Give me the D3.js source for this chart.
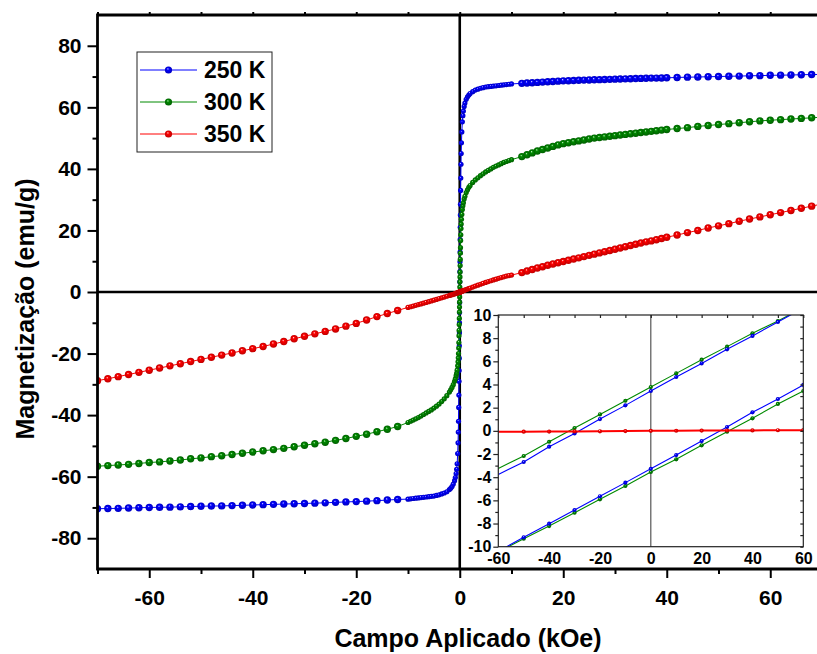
<!DOCTYPE html>
<html>
<head>
<meta charset="utf-8">
<script src="https://cdn.jsdelivr.net/npm/d3@7"></script>
<style>
  body { margin: 0; background: #fff; }
  svg { display: block; }
  text { font-family: Arial, "Liberation Sans", sans-serif; font-weight: bold; fill: #000; }
</style>
</head>
<body>
<svg id="chart" width="817" height="654"></svg>
<script>
// ---------------- Data: M(H) loops, H in kOe, M in emu/g ----------------
const series = ["250 K", "300 K", "350 K"];
const colors = ["#0000ff", "#008a00", "#ff0000"];

// high-field points, negative side (2 kOe steps)
const fieldNeg = [-70,-68,-66,-64,-62,-60,-58,-56,-54,-52,-50,-48,-46,-44,-42,-40,-38,-36,-34,-32,-30,-28,-26,-24,-22,-20,-18,-16,-14,-12];
const m250Neg = [-70.4,-70.35,-70.3,-70.2,-70.1,-70.0,-69.95,-69.9,-69.8,-69.7,-69.6,-69.55,-69.5,-69.4,-69.3,-69.2,-69.1,-69.0,-68.9,-68.8,-68.7,-68.6,-68.5,-68.35,-68.2,-68.1,-67.95,-67.8,-67.6,-67.4];
const m300Neg = [-56.6,-56.4,-56.2,-56.0,-55.7,-55.4,-55.2,-54.9,-54.6,-54.2,-53.9,-53.5,-53.2,-52.8,-52.4,-52.0,-51.6,-51.2,-50.8,-50.3,-49.8,-49.3,-48.8,-48.2,-47.6,-46.9,-46.2,-45.4,-44.6,-43.7];
const m350Neg = [-28.8,-28.2,-27.5,-26.8,-26.1,-25.4,-24.7,-24.0,-23.3,-22.6,-21.9,-21.2,-20.5,-19.8,-19.1,-18.4,-17.7,-16.9,-16.1,-15.2,-14.4,-13.6,-12.8,-12.0,-11.1,-10.2,-9.1,-8.0,-7.0,-6.0];

// high-field points, positive side (1 kOe steps up to 40, then 2 kOe)
const fieldPos = [12,13,14,15,16,17,18,19,20,21,22,23,24,25,26,27,28,29,30,31,32,33,34,35,36,37,38,39,40,42,44,46,48,50,52,54,56,58,60,62,64,66,68,70];
const m250Pos = [67.8,67.9,68.0,68.1,68.2,68.3,68.4,68.5,68.6,68.65,68.7,68.8,68.85,68.9,68.95,69.0,69.05,69.1,69.15,69.2,69.25,69.3,69.35,69.4,69.45,69.5,69.5,69.55,69.6,69.7,69.8,69.85,69.95,70.0,70.1,70.15,70.25,70.3,70.4,70.45,70.5,70.6,70.65,70.7];
const m300Pos = [44.0,44.6,45.2,45.8,46.3,46.8,47.3,47.8,48.2,48.5,48.8,49.1,49.4,49.7,50.0,50.2,50.4,50.6,50.8,51.0,51.2,51.4,51.6,51.8,52.0,52.2,52.4,52.6,52.8,53.1,53.4,53.8,54.1,54.4,54.7,55.0,55.3,55.6,55.8,56.0,56.2,56.4,56.6,56.8];
const m350Pos = [6.3,6.8,7.3,7.8,8.2,8.7,9.1,9.5,9.9,10.3,10.7,11.1,11.5,11.9,12.3,12.7,13.1,13.5,13.9,14.3,14.7,15.1,15.5,15.9,16.3,16.6,17.0,17.4,17.8,18.5,19.3,20.0,20.8,21.5,22.2,23.0,23.7,24.4,25.1,25.8,26.5,27.2,27.9,28.6];

// low-field points (dense sweep around zero)
const fieldInner = [-10,-9.5,-9,-8.5,-8,-7.5,-7,-6.5,-6,-5.5,-5,-4.5,-4,-3.5,-3,-2.5,-2,-1.75,-1.5,-1.25,-1,-0.85,-0.7,-0.6,-0.5,-0.4,-0.33,-0.28,-0.24,-0.2,-0.17,-0.14,-0.12,-0.1,-0.08,-0.06,-0.045,-0.03,-0.015,
  0,
  0.015,0.03,0.045,0.06,0.08,0.1,0.12,0.14,0.17,0.2,0.24,0.28,0.33,0.4,0.5,0.6,0.7,0.85,1,1.25,1.5,1.75,2,2.5,3,3.5,4,4.5,5,5.5,6,6.5,7,7.5,8,8.5,9,9.5,10];
const m250Inner = [-67.3,-67.2,-67.1,-67.0,-66.9,-66.8,-66.7,-66.6,-66.5,-66.4,-66.3,-66.1,-65.9,-65.6,-65.3,-64.9,-64.2,-63.8,-63.2,-62.4,-61.3,-60.3,-59.0,-57.6,-55.8,-52.5,-49.0,-45.5,-42.0,-37.5,-33.5,-29.0,-25.5,-21.5,-17.5,-13.2,-10.0,-6.7,-3.4,
  0,
  3.3,6.6,9.8,13.0,17.0,21.0,25.0,28.5,33.0,37.0,41.5,45.0,48.5,52.0,55.3,57.3,58.8,60.3,61.4,62.6,63.4,64.0,64.5,65.1,65.6,65.9,66.2,66.4,66.6,66.7,66.8,66.9,67.0,67.1,67.2,67.3,67.4,67.5,67.6];
const m300Inner = [-42.4,-42.0,-41.6,-41.2,-40.8,-40.3,-39.8,-39.3,-38.8,-38.3,-37.7,-37.1,-36.4,-35.6,-34.7,-33.7,-32.5,-31.8,-31.0,-30.1,-29.0,-28.2,-27.2,-26.4,-25.4,-24.0,-22.7,-21.4,-20.0,-18.2,-16.4,-14.2,-12.5,-10.6,-8.6,-6.5,-4.9,-3.3,-1.6,
  0,
  1.6,3.3,4.9,6.5,8.6,10.6,12.6,14.4,16.7,18.6,20.6,22.1,23.6,25.2,26.8,28.0,29.0,30.2,31.1,32.3,33.2,34.0,34.6,35.6,36.4,37.1,37.8,38.4,39.0,39.5,40.0,40.5,40.9,41.3,41.7,42.1,42.4,42.7,43.0];
const m350Inner = [-5.0,-4.8,-4.57,-4.34,-4.1,-3.87,-3.63,-3.39,-3.15,-2.9,-2.65,-2.4,-2.15,-1.9,-1.64,-1.38,-1.12,-1.0,-0.87,-0.73,-0.59,-0.5,-0.42,-0.36,-0.3,-0.24,-0.2,-0.17,-0.14,-0.12,-0.1,-0.08,-0.07,-0.06,-0.05,-0.04,-0.03,-0.02,-0.01,
  0,
  0.01,0.02,0.03,0.04,0.05,0.06,0.07,0.09,0.11,0.13,0.15,0.18,0.21,0.26,0.32,0.39,0.45,0.55,0.65,0.81,0.97,1.12,1.28,1.6,1.91,2.22,2.52,2.81,3.1,3.38,3.65,3.92,4.18,4.43,4.68,4.92,5.16,5.33,5.5];

// Inset: low-field loop branches, H in Oe
const insetField = [-60,-50,-40,-30,-20,-10,0,10,20,30,40,50,60];
const i250Up   = [-3.76,-2.69,-1.37,-0.22,1.02,2.2,3.44,4.65,5.82,7.04,8.19,9.4,10.6];
const i300Up   = [-3.24,-2.17,-0.94,0.24,1.42,2.6,3.78,4.96,6.14,7.27,8.42,9.48,10.65];
const i250Down = [-10.4,-9.19,-8.01,-6.83,-5.65,-4.47,-3.27,-2.09,-0.88,0.33,1.6,2.75,3.96];
const i300Down = [-10.45,-9.31,-8.22,-7.07,-5.91,-4.76,-3.55,-2.46,-1.25,-0.07,1.08,2.32,3.44];
const i350     = [-0.08,-0.07,-0.06,-0.05,-0.04,-0.02,0,0.01,0.02,0.03,0.04,0.05,0.06];

// Axis ticks
const xMajor = [-60,-40,-20,0,20,40,60];
const xMinor = [-70,-50,-30,-10,10,30,50,70];
const yMajor = [-80,-60,-40,-20,0,20,40,60,80];
const yMinor = [-70,-50,-30,-10,10,30,50,70];
const insetXMajor = [-60,-40,-20,0,20,40,60];
const insetXMinor = [-50,-30,-10,10,30,50];
const insetYMajor = [-10,-8,-6,-4,-2,0,2,4,6,8,10];
const insetYMinor = [-9,-7,-5,-3,-1,1,3,5,7,9];

// ---------------- Layout ----------------
const svg = d3.select("#chart");
const W = 817, H = 654;
const plot = { left: 97.5, right: 822, top: 15, bottom: 569 };
const x = d3.scaleLinear().domain([-70, 70]).range([plot.left, plot.right]);
const y = d3.scaleLinear().domain([-90, 90]).range([plot.bottom, plot.top]);

const defs = svg.append("defs");
const lightOf = { "#0000ff": "#d0d0ff", "#008a00": "#c0f0c0", "#ff0000": "#ffd8d8" };
const darkOf  = { "#0000ff": "#0000c0", "#008a00": "#006000", "#ff0000": "#c00000" };
colors.forEach((c, i) => {
  const g = defs.append("radialGradient").attr("id", "ball" + i)
    .attr("cx", "50%").attr("cy", "50%").attr("r", "50%").attr("fx", "40%").attr("fy", "32%");
  g.append("stop").attr("offset", "0%").attr("stop-color", lightOf[c]);
  g.append("stop").attr("offset", "30%").attr("stop-color", c);
  g.append("stop").attr("offset", "100%").attr("stop-color", darkOf[c]);
});
defs.append("clipPath").attr("id", "plotClip").append("rect")
  .attr("x", plot.left).attr("y", plot.top)
  .attr("width", W - plot.left).attr("height", plot.bottom - plot.top);

// zero lines
svg.append("line").attr("x1", plot.left).attr("x2", W).attr("y1", y(0)).attr("y2", y(0))
  .attr("stroke", "#000").attr("stroke-width", 2.6);
svg.append("line").attr("x1", x(0)).attr("x2", x(0)).attr("y1", plot.top).attr("y2", plot.bottom)
  .attr("stroke", "#000").attr("stroke-width", 2.6);

// ---------------- Main curves ----------------
const curves = [
  { neg: m250Neg, inner: m250Inner, pos: m250Pos },
  { neg: m300Neg, inner: m300Inner, pos: m300Pos },
  { neg: m350Neg, inner: m350Inner, pos: m350Pos }
];
const gData = svg.append("g").attr("clip-path", "url(#plotClip)");
const line = d3.line().x(d => x(d[0])).y(d => y(d[1]));

curves.forEach((c, i) => {
  const outerPts = fieldNeg.map((h, k) => [h, c.neg[k]]).concat(fieldPos.map((h, k) => [h, c.pos[k]]));
  const innerPts = fieldInner.map((h, k) => [h, c.inner[k]]);
  const all = fieldNeg.map((h, k) => [h, c.neg[k]])
    .concat(innerPts)
    .concat(fieldPos.map((h, k) => [h, c.pos[k]]));
  gData.append("path").datum(all).attr("d", line)
    .attr("fill", "none").attr("stroke", colors[i]).attr("stroke-width", 1);
  gData.append("g").selectAll("circle").data(innerPts).join("circle")
    .attr("cx", d => x(d[0])).attr("cy", d => y(d[1])).attr("r", 2.6)
    .attr("fill", "url(#ball" + i + ")");
  gData.append("g").selectAll("circle").data(outerPts).join("circle")
    .attr("cx", d => x(d[0])).attr("cy", d => y(d[1])).attr("r", 3.7)
    .attr("fill", "url(#ball" + i + ")");
});

// ---------------- Main axes ----------------
const axisStroke = 2.8;
function styleAxis(g) {
  g.select(".domain").remove();
  g.selectAll(".tick line").attr("stroke", "#000").attr("stroke-width", 2);
  g.selectAll(".tick text").style("font-size", "21px");
}
const fmt = d => String(d);
svg.append("g").attr("transform", `translate(${plot.left},0)`)
  .call(d3.axisLeft(y).tickValues(yMajor).tickSize(10).tickPadding(6).tickFormat(fmt))
  .call(styleAxis);
svg.append("g").attr("transform", `translate(${plot.left},0)`)
  .call(d3.axisLeft(y).tickValues(yMinor).tickSize(5).tickFormat(""))
  .call(styleAxis);
svg.append("g").attr("transform", `translate(0,${plot.bottom})`)
  .call(d3.axisBottom(x).tickValues(xMajor).tickSize(9).tickPadding(12).tickFormat(fmt))
  .call(styleAxis);
svg.append("g").attr("transform", `translate(0,${plot.bottom})`)
  .call(d3.axisBottom(x).tickValues(xMinor).tickSize(5).tickFormat(""))
  .call(styleAxis);
// top mirror ticks
svg.append("g").attr("transform", `translate(0,${plot.top})`)
  .call(d3.axisTop(x).tickValues(xMajor.concat(xMinor)).tickSize(3).tickFormat(""))
  .call(styleAxis);

svg.append("line").attr("x1", plot.left).attr("x2", plot.left).attr("y1", plot.top - 1.4).attr("y2", plot.bottom + 1.4)
  .attr("stroke", "#000").attr("stroke-width", axisStroke);
svg.append("line").attr("x1", plot.left).attr("x2", W).attr("y1", plot.bottom).attr("y2", plot.bottom)
  .attr("stroke", "#000").attr("stroke-width", axisStroke);
svg.append("line").attr("x1", plot.left).attr("x2", W).attr("y1", plot.top).attr("y2", plot.top)
  .attr("stroke", "#000").attr("stroke-width", axisStroke);

// axis titles
svg.append("text").attr("x", 468).attr("y", 647).attr("text-anchor", "middle")
  .style("font-size", "25px").text("Campo Aplicado (kOe)");
svg.append("text").attr("transform", "translate(33.5,309) rotate(-90)").attr("text-anchor", "middle")
  .style("font-size", "25px").text("Magnetização (emu/g)");

// ---------------- Legend ----------------
const lg = svg.append("g");
lg.append("rect").attr("x", 137).attr("y", 52).attr("width", 135).attr("height", 100)
  .attr("fill", "#fff").attr("stroke", "#222").attr("stroke-width", 1);
series.forEach((s, i) => {
  const ly = 70 + i * 32;
  lg.append("line").attr("x1", 140).attr("x2", 197).attr("y1", ly).attr("y2", ly)
    .attr("stroke", colors[i]).attr("stroke-width", 1);
  lg.append("circle").attr("cx", 168.5).attr("cy", ly).attr("r", 3.6).attr("fill", "url(#ball" + i + ")");
  lg.append("text").attr("x", 204).attr("y", ly + 8.2).style("font-size", "23px").text(s);
});

// ---------------- Inset ----------------
const ins = { left: 498.3, right: 803.3, top: 315, bottom: 546.7 };
const xi = d3.scaleLinear().domain([-60, 60]).range([ins.left, ins.right]);
const yi = d3.scaleLinear().domain([-10, 10]).range([ins.bottom, ins.top]);
defs.append("clipPath").attr("id", "insetClip").append("rect")
  .attr("x", ins.left).attr("y", ins.top).attr("width", ins.right - ins.left).attr("height", ins.bottom - ins.top);

const gi = svg.append("g");
gi.append("rect").attr("x", ins.left).attr("y", ins.top)
  .attr("width", ins.right - ins.left).attr("height", ins.bottom - ins.top).attr("fill", "#fff");
gi.append("line").attr("x1", xi(0)).attr("x2", xi(0)).attr("y1", ins.top).attr("y2", ins.bottom)
  .attr("stroke", "#555").attr("stroke-width", 1.2);

const insetSeries = [
  { vals: i300Up, c: 1 }, { vals: i250Up, c: 0 },
  { vals: i300Down, c: 1 }, { vals: i250Down, c: 0 },
  { vals: i350, c: 2 }
];
const gic = gi.append("g").attr("clip-path", "url(#insetClip)");
const iline = d3.line().x(d => xi(d[0])).y(d => yi(d[1]));
insetSeries.forEach(sr => {
  const pts = insetField.map((h, k) => [h, sr.vals[k]]);
  gic.append("path").datum(pts).attr("d", iline).attr("fill", "none")
    .attr("stroke", colors[sr.c]).attr("stroke-width", sr.c === 2 ? 2 : 1.1);
  gic.append("g").selectAll("circle")
    .data(pts.filter(d => d[0] > -60 && d[1] <= 10.2 && d[1] >= -10.2)).join("circle")
    .attr("cx", d => xi(d[0])).attr("cy", d => yi(d[1])).attr("r", 2.1)
    .attr("fill", "url(#ball" + sr.c + ")");
});

gi.append("rect").attr("x", ins.left).attr("y", ins.top)
  .attr("width", ins.right - ins.left).attr("height", ins.bottom - ins.top)
  .attr("fill", "none").attr("stroke", "#222").attr("stroke-width", 1.2);

function styleInset(g) {
  g.select(".domain").remove();
  g.selectAll(".tick line").attr("stroke", "#222").attr("stroke-width", 1.2);
  g.selectAll(".tick text").style("font-size", "16px");
}
gi.append("g").attr("transform", `translate(${ins.left},0)`)
  .call(d3.axisLeft(yi).tickValues(insetYMajor).tickSize(5).tickPadding(2).tickFormat(fmt))
  .call(styleInset);
gi.append("g").attr("transform", `translate(${ins.left},0)`)
  .call(d3.axisLeft(yi).tickValues(insetYMinor).tickSize(3).tickFormat(""))
  .call(styleInset);
gi.append("g").attr("transform", `translate(0,${ins.bottom})`)
  .call(d3.axisBottom(xi).tickValues(insetXMajor).tickSize(0).tickPadding(6).tickFormat(fmt))
  .call(styleInset);
gi.append("g").attr("transform", `translate(0,${ins.top})`)
  .call(d3.axisBottom(xi).tickValues(insetXMajor.concat(insetXMinor)).tickSize(3).tickFormat(""))
  .call(styleInset);
gi.append("g").attr("transform", `translate(${ins.right},0)`)
  .call(d3.axisLeft(yi).tickValues(insetYMajor.concat(insetYMinor)).tickSize(3).tickFormat(""))
  .call(styleInset);
</script>
</body>
</html>
